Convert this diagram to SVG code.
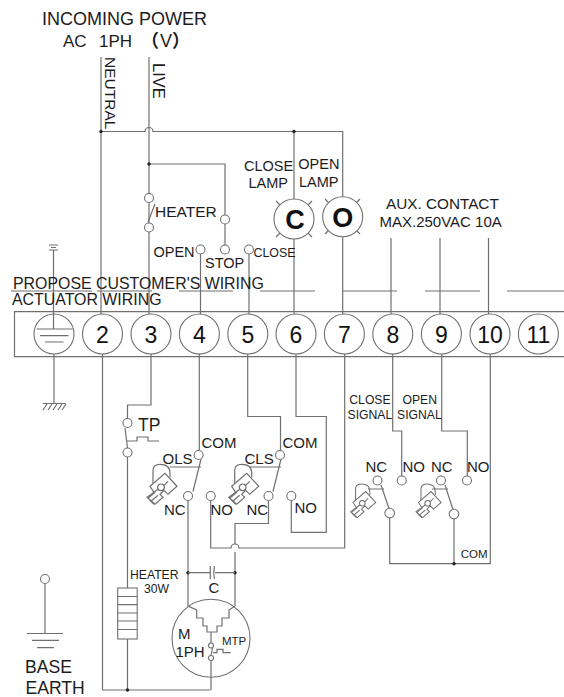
<svg xmlns="http://www.w3.org/2000/svg" width="564" height="697" viewBox="0 0 564 697">
<style>
text{font-family:"Liberation Sans",Arial,"Noto Sans CJK SC",sans-serif;fill:#1c1c1c;font-size:15px}
.w{fill:none;stroke:#707070;stroke-width:1.2}
.c{fill:#fff;stroke:#707070;stroke-width:1.1}
.t{font-size:23px;text-anchor:middle;fill:#111}
.l{font-size:27px;font-weight:bold;text-anchor:middle;fill:#111}
.s{font-size:12.2px}
.d{fill:#222;stroke:none}
</style>
<defs>
<g id="cam" class="w" stroke-width="1">
<path d="M-8,-4V-17Q-8,-23 -1,-23Q9,-23 9,-14V-10"/>
<path d="M-11,-1L4,-14L16,-1L7,7L3,3L-1,7L2,10L-6,17L-14,10L-7,5Z" fill="#fff"/>
<path d="M-13,11L-6,5M-10,14L-3,8M-7,17L-12,12" />
<circle cx="0" cy="0" r="3.3" fill="#fff"/>
<path d="M-7,5L-3,2M3,-2L7,-6"/>
</g>
</defs>
<rect width="564" height="697" fill="#fff"/>

<g id="connectors" class="w">
<path d="M101,57V314"/>
<path d="M149,57V314"/>
<path d="M101,131.5H145A4,4 0 0 1 153,131.5H342.7V197"/>
<path d="M294,131.5V199M294,239V314M342.7,237V314"/>
<path d="M149,164H225V215M225,224V245M200.5,254V314M249,254V314"/>
<path d="M155,204L148,222"/>
<path d="M391,238V314M440,238V314M488.5,238V314"/>
<path d="M53.5,250V329M49,245H58M51,247.5H56M49,250H58"/>
<path d="M102.5,354V690H210.5"/>
<path d="M151,354V405H127.5V418.5M127.5,457V588M127.5,639V690M125,428L127.5,448M126,441H137V437H148V441H159"/>
<path d="M199.3,354V450.5M201,459L193,491.5M188,500.5V603M170,467H201"/>
<path d="M247.7,354V416.5H280.5V450.5M281,459L273,491.5M268.5,500.5V523.5H235V544M235,552V605M250,467H281"/>
<path d="M296,354V416.5H326.3V532.3H291.3V500.5"/>
<path d="M210.7,500.5V548H231A4,4 0 0 1 239,548H344.7V354"/>
<path d="M392.7,354V431H401.7V476M441.7,354V431H467.3V476"/>
<path d="M490.3,354V563.7H389.7V517.5M454,563.7V518.5"/>
<path d="M381,485L389,508.5M445,485L453,509.5M368,489H384M432,489H448"/>
<path d="M11,291H92M97,291H152M179,291H233M260,291H315M342.7,291H397M425,291H480M507,291H564"/>
<path d="M54,354V403.5M42.7,403.5H65.7M47,404L43,410M52,404L48,410M57,404L53,410M62,404L58,410M66,404L62,410"/>
<circle class="d" cx="101" cy="131.5" r="1.7"/>
<circle class="d" cx="294" cy="131.5" r="1.7"/>
<circle class="d" cx="149" cy="164" r="1.7"/>
<circle class="d" cx="127.5" cy="690" r="1.7"/>
<circle class="d" cx="454" cy="563.7" r="1.7"/>
<circle class="d" cx="188" cy="572.7" r="1.7"/>
<circle class="d" cx="235" cy="572.7" r="1.7"/>
</g>

<g id="incoming-power">
<text x="42" y="25" style="font-size:18px">INCOMING POWER</text>
<text y="47" style="font-size:17px"><tspan x="63">AC</tspan><tspan x="99">1PH</tspan></text>
<text y="47" style="font-size:18px;font-weight:bold"><tspan x="141">（</tspan><tspan x="172">）</tspan></text>
<text x="160" y="47" style="font-size:18px">V</text>
<text transform="translate(105,57) rotate(90)" style="font-size:15.5px">NEUTRAL</text>
<text transform="translate(152.7,63) rotate(90)" style="font-size:16.5px">LIVE</text>
</g>

<g id="heater-switch" class="c"><circle cx="149" cy="198" r="4.5"/><circle cx="149" cy="227.5" r="4.5"/></g>
<g id="heater-label"><text x="155" y="217" style="font-size:15.5px">HEATER</text></g>
<g id="stop-contacts" class="c"><circle cx="225" cy="219.5" r="4.5"/><circle cx="225" cy="249.5" r="4.5"/><circle cx="200.5" cy="249.5" r="4.5"/><circle cx="249" cy="249.5" r="4.5"/></g>
<g id="contact-labels">
<text x="153.5" y="256.5" style="font-size:14.5px">OPEN</text>
<text x="205" y="268" style="font-size:14.5px">STOP</text>
<text x="253.5" y="257" style="font-size:12.4px">CLOSE</text>
</g>

<g id="close-lamp">
<text x="244" y="171" style="font-size:14.5px">CLOSE</text>
<text x="248.5" y="188" style="font-size:14.5px">LAMP</text>
<path class="w" d="M276,201L282,207M312,201L306,207M276,237L282,231M312,237L306,231"/>
<circle class="c" cx="294" cy="219" r="20"/>
<text class="l" x="295" y="229">C</text>
</g>
<g id="open-lamp">
<text x="298.3" y="169.3" style="font-size:14.5px">OPEN</text>
<text x="299" y="187" style="font-size:14.5px">LAMP</text>
<path class="w" d="M325,199L331,205M360,199L354,205M325,234L331,228M360,234L354,228"/>
<circle class="c" cx="342.7" cy="216.7" r="20"/>
<text class="l" x="342.7" y="226.5">O</text>
</g>
<g id="aux-contact">
<text x="386" y="209" style="font-size:15.3px">AUX. CONTACT</text>
<text x="379.5" y="227" style="font-size:15px">MAX.250VAC 10A</text>
</g>
<g id="wiring-labels">
<text x="13" y="288.5" style="font-size:15.9px">PROPOSE CUSTOMER'S WIRING</text>
<text x="12" y="304.5" style="font-size:15.9px">ACTUATOR WIRING</text>
</g>

<g id="terminal-strip"><path class="w" d="M564,311.7H14.5V356.7H564"/></g>
<g id="terminal-earth">
<circle class="c" cx="54" cy="334" r="20"/>
<path class="w" d="M53.5,314V329M36.7,329H72.7M40,335.7H68.5M45,342H63.5"/>
</g>
<g id="terminal-2"><circle class="c" cx="102.5" cy="334" r="20"/><text class="t" x="102.5" y="342.5">2</text></g>
<g id="terminal-3"><circle class="c" cx="151" cy="334" r="20"/><text class="t" x="151" y="342.5">3</text></g>
<g id="terminal-4"><circle class="c" cx="199.4" cy="334" r="20"/><text class="t" x="199.4" y="342.5">4</text></g>
<g id="terminal-5"><circle class="c" cx="247.8" cy="334" r="20"/><text class="t" x="247.8" y="342.5">5</text></g>
<g id="terminal-6"><circle class="c" cx="296" cy="334" r="20"/><text class="t" x="296" y="342.5">6</text></g>
<g id="terminal-7"><circle class="c" cx="344.4" cy="334" r="20"/><text class="t" x="344.4" y="342.5">7</text></g>
<g id="terminal-8"><circle class="c" cx="392.8" cy="334" r="20"/><text class="t" x="392.8" y="342.5">8</text></g>
<g id="terminal-9"><circle class="c" cx="441.4" cy="334" r="20"/><text class="t" x="441.4" y="342.5">9</text></g>
<g id="terminal-10"><circle class="c" cx="490" cy="334" r="20"/><text class="t" x="490" y="342.5">10</text></g>
<g id="terminal-11"><circle class="c" cx="538.4" cy="334" r="20"/><text class="t" x="538.4" y="342.5">11</text></g>

<g id="tp">
<circle class="c" cx="127.5" cy="423" r="4.5"/><circle class="c" cx="127.5" cy="452.5" r="4.5"/>
<text x="138" y="431" style="font-size:17.5px">TP</text>
</g>
<g id="ols">
<use href="#cam" x="161" y="487.3"/>
<circle class="c" cx="198.6" cy="455" r="4.5"/><circle class="c" cx="188" cy="496" r="4.5"/><circle class="c" cx="210.7" cy="496" r="4.5"/>
<text x="201.5" y="448">COM</text><text x="162.5" y="463.7">OLS</text><text x="164" y="515">NC</text><text x="210.5" y="515">NO</text>
</g>
<g id="cls">
<use href="#cam" x="242.7" y="487.3"/>
<circle class="c" cx="280" cy="455" r="4.5"/><circle class="c" cx="268.5" cy="496" r="4.5"/><circle class="c" cx="291.3" cy="496" r="4.5"/>
<text x="282.5" y="448">COM</text><text x="244.5" y="463.7">CLS</text><text x="246.5" y="515">NC</text><text x="294.5" y="513">NO</text>
</g>
<g id="signal-labels">
<text class="s" x="349.3" y="404.3">CLOSE</text><text class="s" x="347.5" y="419">SIGNAL</text>
<text class="s" x="402.5" y="404.3">OPEN</text><text class="s" x="397" y="419">SIGNAL</text>
</g>
<g id="aux-close">
<use href="#cam" transform="translate(362.3,503.3) scale(.84)"/>
<circle class="c" cx="377.5" cy="480.5" r="4.5"/><circle class="c" cx="401.7" cy="480.5" r="4.5"/><circle class="c" cx="389.7" cy="513" r="4.8"/>
<text x="365.5" y="471.7">NC</text><text x="402.5" y="471.7">NO</text>
</g>
<g id="aux-open">
<use href="#cam" transform="translate(427.7,503.3) scale(.84)"/>
<circle class="c" cx="441" cy="480.5" r="4.5"/><circle class="c" cx="467" cy="480.5" r="4.5"/><circle class="c" cx="454" cy="514" r="4.8"/>
<text x="431" y="471.7">NC</text><text x="467" y="471.7">NO</text>
</g>
<g id="com-label"><text x="460.7" y="558.3" style="font-size:11.5px">COM</text></g>

<g id="heater">
<rect class="c" x="117.7" y="588" width="19.5" height="51"/>
<path class="w" d="M117.7,596.5H137.2M117.7,604.7H137.2M117.7,613H137.2M117.7,621H137.2M117.7,629.5H137.2"/>
<text class="s" x="130" y="578.7">HEATER</text><text class="s" x="144" y="593.3">30W</text>
</g>
<g id="capacitor">
<path class="w" d="M188,572.7H210M215,572.7H235M210.3,566V579M214.5,566Q213,572.7 214.5,579"/>
<text x="208.5" y="592.7">C</text>
</g>
<g id="motor">
<circle class="c" cx="211" cy="638.3" r="39"/>
<path class="w" d="M188,603V606L196.7,610V618H203V626H207V632H217V626H222V618H229V610L235,606V605M211,632V643M211,660.5V690M212.5,648L211,655.5M213,652.7H217V649.3H223V652.7H230.7"/>
<circle class="c" cx="211" cy="645.5" r="2.5"/><circle class="c" cx="211" cy="658" r="2.5"/>
<text x="178" y="639">M</text><text x="175.5" y="656.7">1PH</text>
<text x="222" y="645" style="font-size:11.5px">MTP</text>
</g>
<g id="base-earth">
<path class="w" d="M45,583.5V633.5M27,633.5H63M32,640.3H59M37,647.7H54"/>
<circle class="c" cx="45" cy="579" r="4.5"/>
<text x="25" y="673" style="font-size:17.6px">BASE</text>
<text x="25.5" y="694" style="font-size:17.6px">EARTH</text>
</g>
</svg>
